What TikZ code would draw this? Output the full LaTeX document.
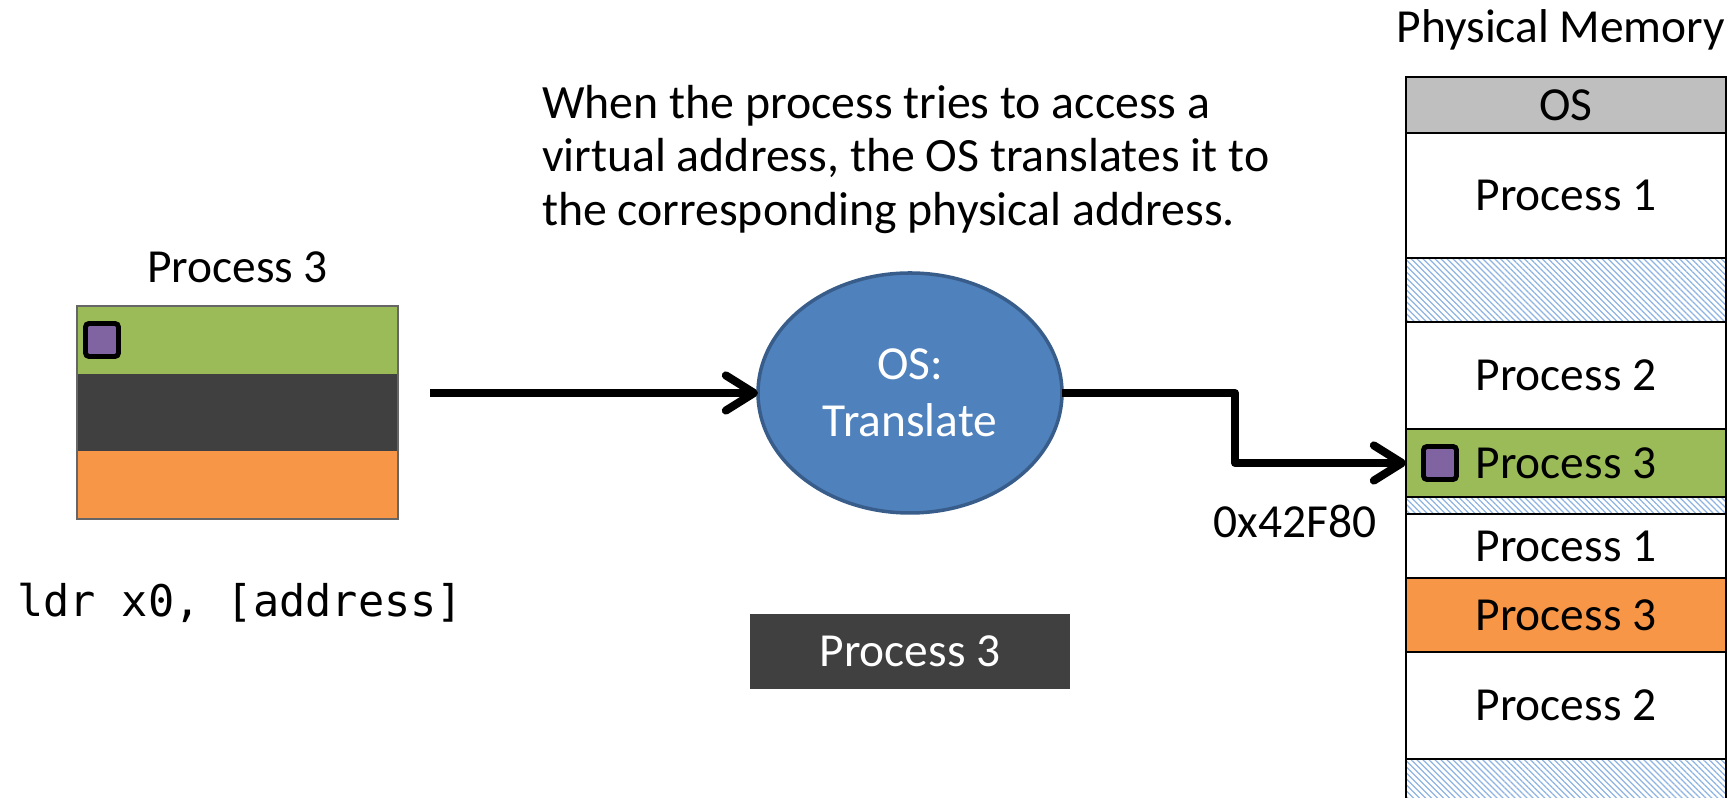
\documentclass[tikz,border=0pt]{standalone}
\usepackage{fontspec}
\setmainfont{Carlito}
\setmonofont{DejaVu Sans Mono}
\usepackage{tikz}
\usetikzlibrary{shapes.geometric}
\usetikzlibrary{arrows.meta}
\usetikzlibrary{positioning}
\usetikzlibrary{fit}
\usetikzlibrary{patterns.meta}
\definecolor{vgreen}{HTML}{9BBB59}
\definecolor{vdark}{HTML}{404040}
\definecolor{vorange}{HTML}{F79646}
\definecolor{wordpurple}{HTML}{8064A2}
\definecolor{osblue}{HTML}{4F81BD}
\definecolor{osborder}{HTML}{385D8A}
\definecolor{osgray}{HTML}{BFBFBF}
\definecolor{hatchblue}{HTML}{8DB3E2}
\tikzset{
% Define standard arrow tip
>={Straight Barb[length=8pt, width=10pt, round]},
memrow/.style={rectangle, draw=black, line width=0.6pt, fill=white,
  anchor=north, minimum width=3.2cm},
hatchrow/.style={memrow, pattern={Lines[angle=-45, distance=1.2pt, line width=0.35pt]},
  pattern color=hatchblue},
vseg/.style={rectangle, anchor=north, minimum width=3.21cm},
wordbox/.style={rectangle, draw=black, line width=1.4pt, rounded corners=1pt,
  fill=wordpurple, minimum size=0.33cm},
addrline/.style={line width=2.3pt, line join=round}
}

\begin{document}
\begin{tikzpicture}[inner sep=0, outer sep=0,
  font=\fontsize{13.5}{16.2}\selectfont]
  \useasboundingbox (0,0) rectangle (17.31,-7.98);

  % physical memory
  \node[memrow, fill=osgray, minimum height=0.56cm] (os) at (15.66,-0.77) {OS};
  \node[memrow, minimum height=1.25cm] (mp1a) at (os.south) {Process 1};
  \node[hatchrow, minimum height=0.64cm] (free1) at (mp1a.south) {};
  \node[memrow, minimum height=1.07cm] (mp2a) at (free1.south) {Process 2};
  \node[memrow, fill=vgreen, minimum height=0.68cm] (mp3a) at (mp2a.south) {Process 3};
  \node[hatchrow, minimum height=0.17cm] (free2) at (mp3a.south) {};
  \node[memrow, minimum height=0.64cm] (mp1b) at (free2.south) {Process 1};
  \node[memrow, fill=vorange, minimum height=0.74cm] (mp3b) at (mp1b.south) {Process 3};
  \node[memrow, minimum height=1.07cm] (mp2b) at (mp3b.south) {Process 2};
  \node[hatchrow, minimum height=0.6cm] (free3) at (mp2b.south) {};
  \node[anchor=base] (pmlabel) at ([xshift=-0.05cm, yshift=0.34cm]os.north) {Physical Memory};
  \node[wordbox] (pword) at ([xshift=0.34cm]mp3a.west) {};

  % virtual address space
  \node[vseg, fill=vgreen, minimum height=0.68cm] (vcode) at (2.375,-3.06) {};
  \node[vseg, fill=vdark, minimum height=0.77cm] (vdata) at (vcode.south) {};
  \node[vseg, fill=vorange, minimum height=0.68cm] (vheap) at (vdata.south) {};
  \node[draw=black!60, line width=0.4pt, fit=(vcode) (vheap)] (vspace) {};
  \node[anchor=base] (vlabel) at ([yshift=0.23cm]vcode.north) {Process 3};
  \node[wordbox] (vword) at ([xshift=0.25cm]vcode.west) {};
  \node[anchor=base west, font=\ttfamily\fontsize{12.4}{14}\selectfont] (ldr) at (0.17,-6.17) {ldr x0, [address]};

  \node[anchor=north west, align=left, font=\fontsize{13.6}{15.2}\selectfont] (note) at (5.42,-0.85)
    {When the process tries to access a\\virtual address, the OS translates it to\\the corresponding physical address.};

  \node[ellipse, fill=osblue, draw=osborder, line width=1pt,
    minimum width=3.04cm, minimum height=2.40cm,
    text=white, align=center] (translate) at (9.10,-3.93) {OS:\\Translate};

  \node[rectangle, fill=vdark, text=white,
    minimum width=3.20cm, minimum height=0.75cm] (p3tag) at ([yshift=-2.585cm]translate.center) {Process 3};

  \coordinate (vaddr) at (4.30,-3.93);
  \coordinate (bend) at (12.35,-3.93);
  \draw[addrline, ->] (vaddr) -- (translate.west);
  \draw[addrline, ->] (translate.east) -- (bend) |- (mp3a.west);
  \node[anchor=base] (paddr) at (12.95,-5.38) {0x42F80};
\end{tikzpicture}
\end{document}
